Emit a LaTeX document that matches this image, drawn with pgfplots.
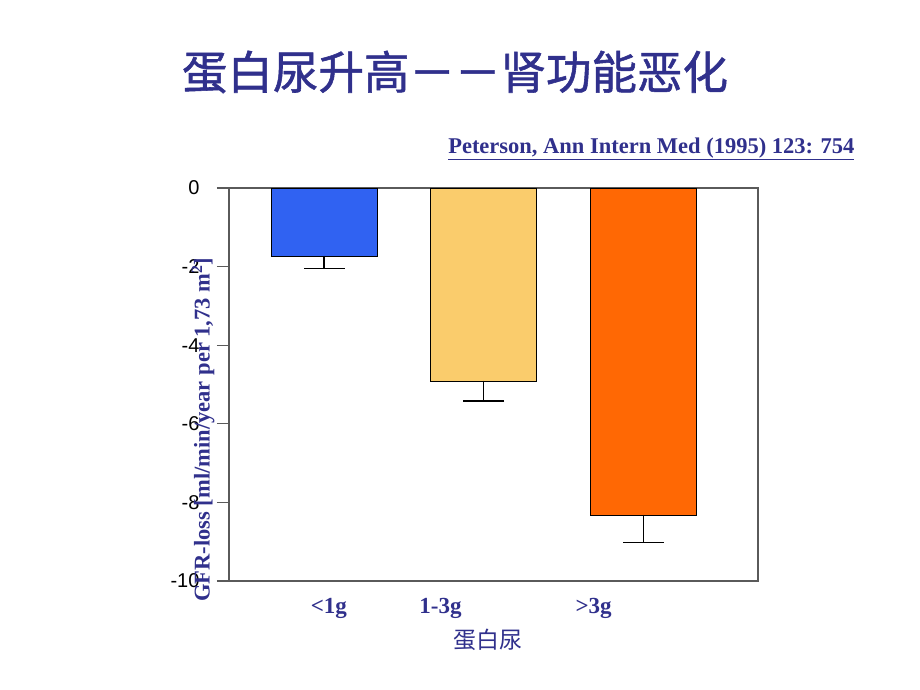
\documentclass[border=0pt]{standalone}
\usepackage{fontspec}
\setmainfont{Liberation Serif}
\newfontfamily\cjk{Noto Sans CJK SC}
\newfontfamily\cjktitle[FakeBold=1.2]{Noto Sans CJK SC}
\newfontfamily\arial{Liberation Sans}
\usepackage{pgfplots}
\pgfplotsset{compat=1.18}
\definecolor{navy}{RGB}{48,48,140}
\definecolor{barblue}{RGB}{48,98,242}
\definecolor{baryellow}{RGB}{250,204,108}
\definecolor{barorange}{RGB}{255,104,4}
\definecolor{spine}{RGB}{90,90,90}

\begin{document}
\begin{tikzpicture}
\useasboundingbox (-229pt,-109pt) rectangle (691pt,581pt);
\begin{axis}[
  at={(0pt,0pt)}, anchor=south west,
  scale only axis, width=529pt, height=393pt,
  xmin=-0.596, xmax=2.72, ymin=-10, ymax=0,
  axis line style={spine, line width=1.2pt},
  ytick={0,-2,-4,-6,-8,-10},
  yticklabels={0,-2,-4,-6,-8,-10},
  yticklabel style={font=\arial\fontsize{20}{20}\selectfont, text=black, xshift=-14pt},
  y tick style={spine, line width=1.2pt},
  tick align=outside, major tick length=12pt,
  ytick pos=left,
  xtick={0.03,0.73,1.69},
  xticklabels={{<1g},{1-3g},{>3g}},
  x tick style={draw=none},
  xticklabel style={font=\bfseries\fontsize{23}{23}\selectfont, text=navy, yshift=-2pt},
  ylabel={GFR-loss [ml/min/year per 1,73 m\textsuperscript{2}]},
  ylabel style={font=\bfseries\fontsize{22.5}{22.5}\selectfont, text=navy,
    at={(axis description cs:-0.049,0.385)}, anchor=center},
  every axis plot/.append style={ybar, bar width=106pt, bar shift=0pt, draw=black, line width=0.8pt},
  error bars/y dir=minus, error bars/y explicit,
  error bars/error mark options={rotate=90, mark size=20.5pt, line width=1.2pt},
  error bars/error bar style={line width=1.2pt, black},
]
\addplot[fill=barblue] coordinates {(0,-1.73) -= (0,0.31)};
\addplot[fill=baryellow] coordinates {(1,-4.91) -= (0,0.51)};
\addplot[fill=barorange] coordinates {(2,-8.32) -= (0,0.71)};
\end{axis}
\node[font=\cjktitle\fontsize{45.5}{45.5}\selectfont, text=navy] at (226pt,509pt) {蛋白尿升高－－肾功能恶化};
\node[anchor=east, font=\bfseries\fontsize{22.5}{22.5}\selectfont, text=navy] at (629pt,432pt) {\underline{Peterson, Ann Intern Med (1995) 123: 754}};
\node[font=\cjk\fontsize{23}{23}\selectfont, text=navy] at (259pt,-59pt) {蛋白尿};
\end{tikzpicture}
\end{document}
